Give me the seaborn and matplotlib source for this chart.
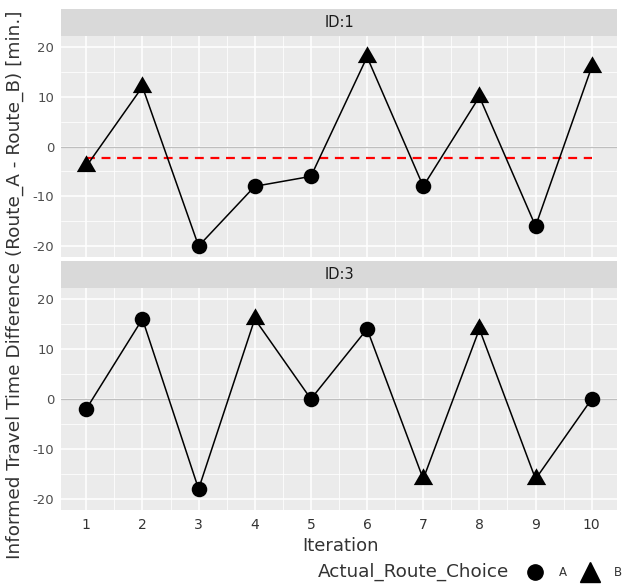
import numpy as np
import pandas as pd
import matplotlib
matplotlib.use("Agg")
import matplotlib.pyplot as plt
import seaborn as sns
from matplotlib.lines import Line2D

# data
iteration = list(range(1, 11))
id1_diff = [-4, 12, -20, -8, -6, 18, -8, 10, -16, 16]
id1_choice = ["B", "B", "A", "A", "A", "B", "A", "B", "A", "B"]
id3_diff = [-2, 16, -18, 16, 0, 14, -16, 14, -16, 0]
id3_choice = ["A", "A", "A", "B", "A", "A", "B", "B", "B", "A"]
id1_ref = -2.4
panel_ids = ["ID:1", "ID:3"]

df = pd.concat([
    pd.DataFrame({"Iteration": iteration, "Diff": id1_diff,
                  "Actual_Route_Choice": id1_choice, "ID": "ID:1"}),
    pd.DataFrame({"Iteration": iteration, "Diff": id3_diff,
                  "Actual_Route_Choice": id3_choice, "ID": "ID:3"}),
])

sns.set_style("white")
plt.rcParams["font.family"] = ["DejaVu Sans"]
plt.rcParams["axes.unicode_minus"] = False

W, H = 622, 584
fig = plt.figure(figsize=(W / 100, H / 100), dpi=100)

# triangle centred on its centroid, like R's pch 17
tri = [(0, 1), (-0.866, -0.5), (0.866, -0.5), (0, 1)]
marker_map = {"A": "o", "B": tri}
size_map = {"A": 125, "B": 260}

panels = [(36, 257), (288, 510)]
for i, (pid, (top, bot)) in enumerate(zip(panel_ids, panels)):
    ax = fig.add_axes([61 / W, (H - bot) / H, 556 / W, (bot - top) / H])
    strip = fig.add_axes([61 / W, (H - top) / H, 556 / W, 27 / H])
    strip.set_facecolor("#D9D9D9")
    strip.set_xticks([]); strip.set_yticks([])
    for s in strip.spines.values():
        s.set_visible(False)
    strip.text(0.5, 0.5, pid, ha="center", va="center", fontsize=10.5, color="#1A1A1A")

    sub = df[df["ID"] == pid]
    ax.set_facecolor("#EBEBEB")
    ax.set_xlim(0.55, 10.45)
    ax.set_ylim(-22.2, 22.2)
    ax.set_xticks(iteration)
    ax.set_xticks(np.arange(1.5, 10, 1), minor=True)
    ax.set_yticks([-20, -10, 0, 10, 20])
    ax.set_yticks([-15, -5, 5, 15], minor=True)
    ax.grid(which="major", color="white", lw=1.1)
    ax.grid(which="minor", color="white", lw=0.55)
    ax.set_axisbelow(True)
    for s in ax.spines.values():
        s.set_visible(False)

    ax.axhline(0, color="#BEBEBE", lw=0.9, zorder=1)
    if pid == "ID:1":
        ax.plot([1, 10], [id1_ref, id1_ref], color="red", ls=(0, (4, 3)), lw=1.6, zorder=2)

    sns.lineplot(data=sub, x="Iteration", y="Diff", color="black", lw=1.1,
                 ax=ax, legend=False, zorder=3)
    for choice in ["A", "B"]:
        part = sub[sub["Actual_Route_Choice"] == choice]
        sns.scatterplot(data=part, x="Iteration", y="Diff", color="black",
                        marker=marker_map[choice], s=size_map[choice],
                        linewidth=0, ax=ax, legend=False, zorder=4)

    ax.set_xlabel(""); ax.set_ylabel("")
    ax.set_yticklabels(["-20", "-10", "0", "10", "20"])
    ax.tick_params(axis="y", which="major", length=3, color="#333333",
                   labelcolor="#4D4D4D", labelsize=9.5, pad=2)
    ax.tick_params(which="minor", length=0)
    if i == 0:
        ax.tick_params(axis="x", which="major", length=0, labelbottom=False)
    else:
        ax.tick_params(axis="x", which="major", length=3, color="#333333",
                       labelcolor="#333333", labelsize=10, pad=3)
        ax.set_xticklabels([str(v) for v in iteration])

fig.text(341 / W, (H - 546) / H, "Iteration", ha="center", va="center",
         fontsize=13, color="#333333")
fig.text(15 / W, (H - 285) / H,
         "Informed Travel Time Difference (Route_A - Route_B) [min.]",
         rotation=90, ha="center", va="center", fontsize=13.3, color="#333333")

fig.text(318 / W, (H - 572) / H, "Actual_Route_Choice", ha="left", va="center",
         fontsize=13.2, color="#333333")
handles = [Line2D([], [], ls="", marker="o", color="black", markersize=11),
           Line2D([], [], ls="", marker="^", color="black", markersize=15)]
fig.legend(handles, ["A", "B"], loc="center left",
           bbox_to_anchor=(528 / W, (H - 573) / H), ncol=2, frameon=False,
           borderaxespad=0, borderpad=0,
           fontsize=8.5, handlelength=1.2, handletextpad=1.45, columnspacing=1.3,
           labelcolor="#333333")

fig.savefig("out.png", dpi=100)
